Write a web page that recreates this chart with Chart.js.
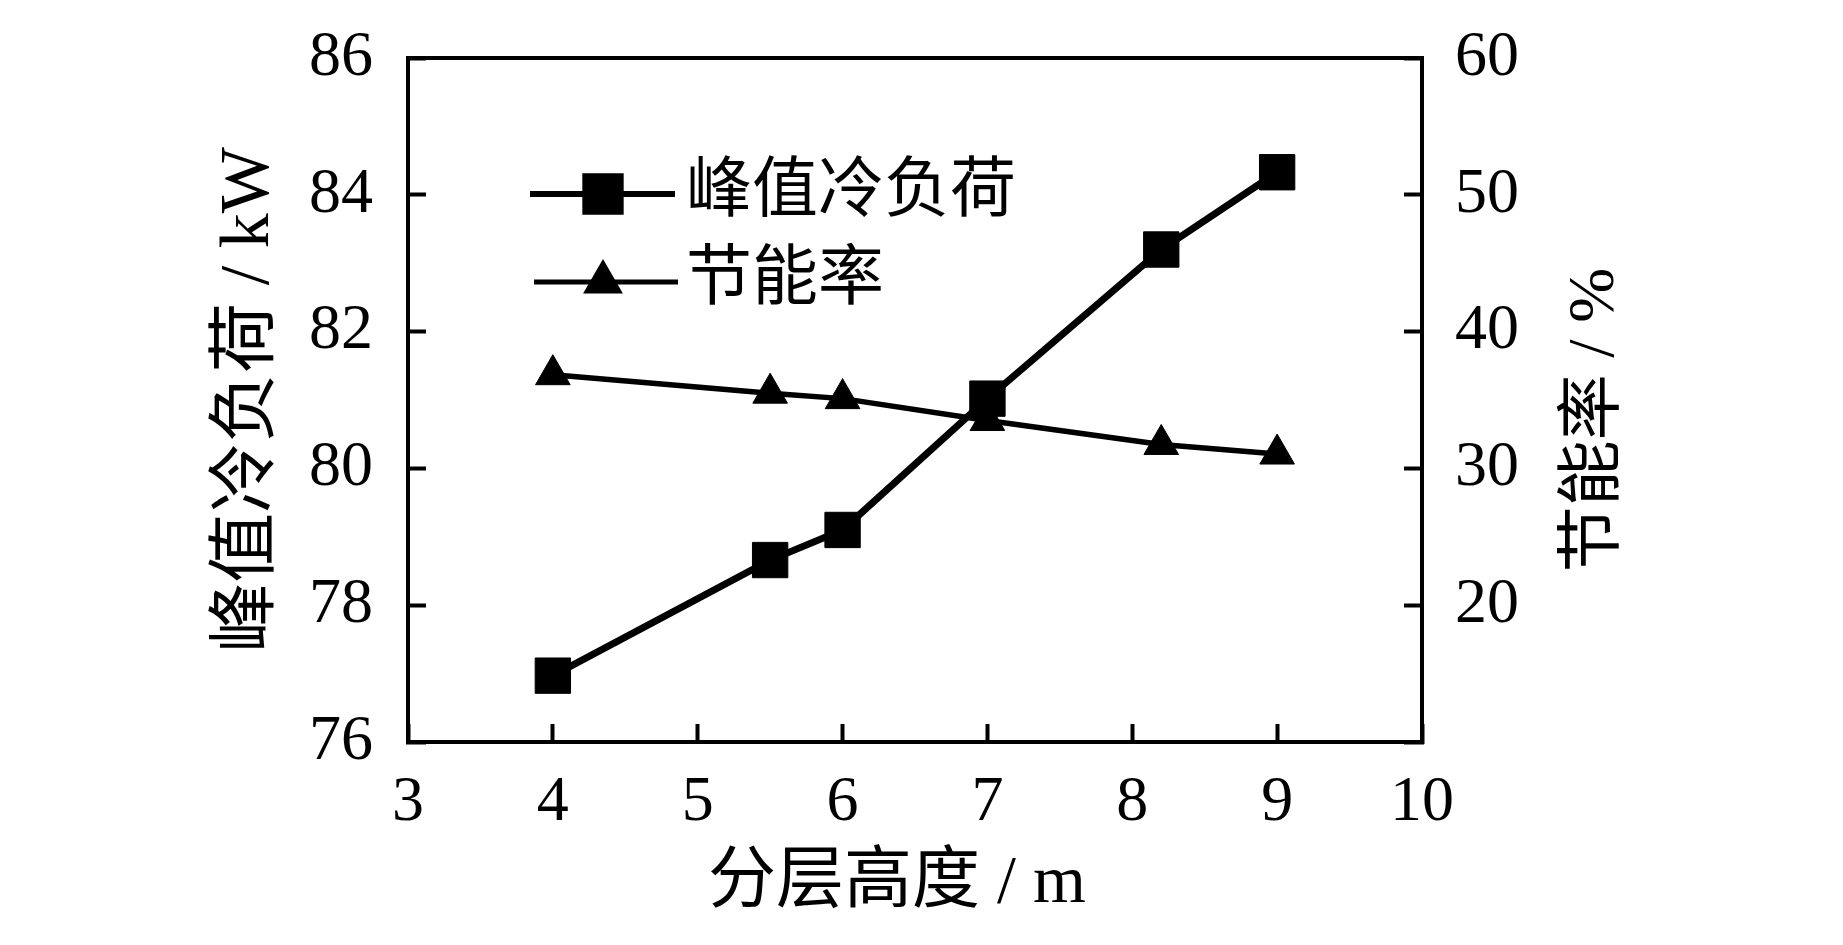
<!DOCTYPE html>
<html>
<head>
<meta charset="utf-8">
<script src="https://cdn.jsdelivr.net/npm/chart.js@4.4.1/dist/chart.umd.min.js"></script>
<style>
  html, body { margin: 0; padding: 0; background: #fff; }
  canvas { display: block; }
</style>
</head>
<body>
<canvas id="layerChart" width="1843" height="945"></canvas>
<script>
// data
const layerHeights = [4, 5.5, 6, 7, 8.2, 9];            // 分层高度 / m
const peakLoad = [76.97, 78.66, 79.1, 81.02, 83.2, 84.33]; // 峰值冷负荷 / kW
const savingRate = [36.85, 35.5, 35.1, 33.5, 31.75, 31.05]; // 节能率 / %

const seriesNames = ['峰值冷负荷', '节能率'];
const xTitle = '分层高度 / m';
const yLeftTitle = '峰值冷负荷 / kW';
const yRightTitle = '节能率 / %';

const fontFamily = "'Liberation Serif', 'Noto Sans CJK SC', serif";

// keep the plot box where the figure has it
function noPad(scale) {
    scale.paddingTop = 0;
    scale.paddingBottom = 0;
    scale.paddingLeft = 0;
    scale.paddingRight = 0;
}

// x title sits a bit left of centre, right title reads bottom-to-top,
// and the legend shows line + marker
const extrasPlugin = {
    id: 'extras',
    afterDraw(chart) {
        const c = chart.ctx;
        c.save();
        c.fillStyle = '#000';
        c.textAlign = 'center';
        c.textBaseline = 'middle';
        c.font = '68px ' + fontFamily;
        c.fillText(xTitle, 897, 884);
        c.font = '66px ' + fontFamily;
        c.translate(1596, 420);
        c.rotate(-Math.PI / 2);
        c.fillText(yRightTitle, 0, 0);
        c.restore();

        const rows = [
            { y: 194, x1: 530, x2: 675, lw: 6, style: 'rect', r: 25 },
            { y: 282, x1: 534, x2: 678, lw: 5, style: 'triangle', r: 18 }
        ];
        rows.forEach((row, i) => {
            c.save();
            c.strokeStyle = '#000';
            c.lineWidth = row.lw;
            c.beginPath();
            c.moveTo(row.x1, row.y);
            c.lineTo(row.x2, row.y);
            c.stroke();
            c.fillStyle = '#000';
            Chart.helpers.drawPoint(c, { pointStyle: row.style, radius: row.r, borderWidth: 1, rotation: 0 }, 603, row.y);
            c.fill();
            c.font = '66px ' + fontFamily;
            c.textAlign = 'left';
            c.textBaseline = 'middle';
            c.fillText(chart.data.datasets[i].label, 686, row.y);
            c.restore();
        });
    }
};

const ctx = document.getElementById('layerChart').getContext('2d');
const layerChart = new Chart(ctx, {
    type: 'line',
    data: {
        datasets: [{
            label: seriesNames[0],
            data: layerHeights.map((h, i) => ({ x: h, y: peakLoad[i] })),
            yAxisID: 'y',
            borderColor: '#000',
            backgroundColor: '#000',
            borderWidth: 7,
            pointStyle: 'rect',
            pointRadius: 25,
            pointBorderWidth: 1,
            tension: 0
        }, {
            label: seriesNames[1],
            data: layerHeights.map((h, i) => ({ x: h, y: savingRate[i] })),
            yAxisID: 'y2',
            borderColor: '#000',
            backgroundColor: '#000',
            borderWidth: 5.5,
            pointStyle: 'triangle',
            pointRadius: 20,
            pointBorderWidth: 1,
            tension: 0
        }]
    },
    options: {
        responsive: false,
        animation: false,
        devicePixelRatio: 1,
        layout: { padding: { left: 208, right: 0, top: 58, bottom: 26 } },
        plugins: {
            legend: { display: false },
            tooltip: { enabled: false }
        },
        scales: {
            x: {
                type: 'linear',
                position: 'bottom',
                min: 3,
                max: 10,
                ticks: { stepSize: 1, color: '#000', padding: 41, font: { family: fontFamily, size: 64 } },
                grid: { drawOnChartArea: false, tickLength: -18, tickWidth: 4, color: '#000' },
                border: { color: '#000', width: 4 },
                afterFit(scale) { scale.height = 177; noPad(scale); }
            },
            xTop: {
                type: 'linear',
                position: 'top',
                min: 3,
                max: 10,
                ticks: { display: false },
                grid: { drawOnChartArea: false, drawTicks: false },
                border: { color: '#000', width: 4 },
                afterFit(scale) { scale.height = 0; noPad(scale); }
            },
            y: {
                type: 'linear',
                position: 'left',
                min: 76,
                max: 86,
                ticks: { stepSize: 2, color: '#000', padding: 53, font: { family: fontFamily, size: 64 } },
                grid: { drawOnChartArea: false, tickLength: -18, tickWidth: 4, color: '#000' },
                border: { color: '#000', width: 4 },
                title: { display: true, text: yLeftTitle, color: '#000', padding: 0, font: { family: fontFamily, size: 70, lineHeight: 1.2 } },
                afterFit(scale) { scale.width = 200; noPad(scale); }
            },
            y2: {
                type: 'linear',
                position: 'right',
                min: 10,
                max: 60,
                ticks: {
                    stepSize: 10, color: '#000', padding: 51, font: { family: fontFamily, size: 64 },
                    callback: v => (v === 10 ? '' : v)
                },
                grid: { drawOnChartArea: false, tickLength: -18, tickWidth: 4, color: '#000' },
                border: { color: '#000', width: 4 },
                afterFit(scale) { scale.width = 421; noPad(scale); }
            }
        }
    },
    plugins: [extrasPlugin]
});
</script>
</body>
</html>
